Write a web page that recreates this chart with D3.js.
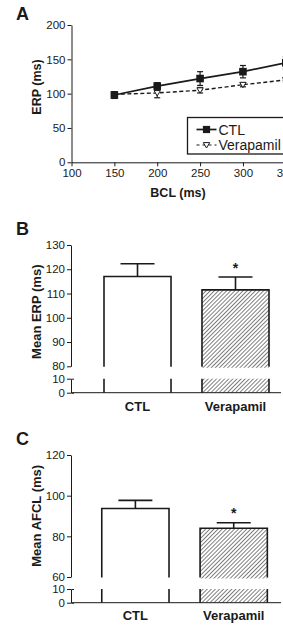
<!DOCTYPE html>
<html><head><meta charset="utf-8">
<script src="https://cdn.jsdelivr.net/npm/d3@7"></script>
<style>
html,body{margin:0;padding:0;background:#fff;}
svg{display:block;font-family:"Liberation Sans",Arial,Helvetica,sans-serif;}
</style></head>
<body><svg id="c" width="283" height="634"></svg>
<script>
// ---- Panel A data ----
const bcl = [150, 200, 250, 300, 350];
const ctlErp = [98, 111, 122, 132, 145];
const ctlErpErr = [5, 5, 10, 9, 9];
const veraErp = [99, 101, 105, 113, 120];
const veraErpErr = [3, 7, 4, 3, 3];
const xTicksA = [100, 150, 200, 250, 300, 350];
const yTicksA = [0, 50, 100, 150, 200];
const seriesNames = ["CTL", "Verapamil"];

// ---- Panel B data ----
const groups = ["CTL", "Verapamil"];
const meanErp = [117, 111.5];
const meanErpErr = [5.3, 5.3];
const erpTicksUpper = [80, 90, 100, 110, 120, 130];
const erpTicksLower = [0, 10];

// ---- Panel C data ----
const meanAfcl = [93.7, 84];
const meanAfclErr = [4, 2.7];
const afclTicksUpper = [60, 80, 100, 120];
const afclTicksLower = [0, 10];
const significant = [false, true];

const svg = d3.select("#c");
const ink = "#1a1a1a";
const tickFs = 11.5;

const defs = svg.append("defs");
const pat = defs.append("pattern").attr("id","hatch").attr("patternUnits","userSpaceOnUse")
  .attr("width",2.9).attr("height",2.9).attr("patternTransform","rotate(45)");
pat.append("rect").attr("width",2.9).attr("height",2.9).attr("fill","#fff");
pat.append("line").attr("x1",0).attr("y1",0).attr("x2",0).attr("y2",2.9)
  .attr("stroke","#2a2a2a").attr("stroke-width",1.2);

function styleAxis(g, fs){
  g.selectAll("path,line").attr("stroke", ink).attr("stroke-width",1);
  g.selectAll("text").attr("fill", ink).style("font-size", fs+"px").attr("font-family",null);
}

// ================= Panel A =================
const xA = d3.scaleLinear().domain([100, 350]).range([71.5, 285.8]);
const yA = d3.scaleLinear().domain([0, 200]).range([162.3, 25]);

svg.append("text").attr("x",16).attr("y",19.5).text("A")
  .style("font-size","18px").style("font-weight","bold").attr("fill",ink);

const gxA = svg.append("g").attr("transform",`translate(0,${yA(0)})`)
  .call(d3.axisBottom(xA).tickValues(xTicksA).tickSize(4).tickSizeOuter(0).tickPadding(3));
styleAxis(gxA, tickFs);
const gyA = svg.append("g").attr("transform",`translate(${xA(100)},0)`)
  .call(d3.axisLeft(yA).tickValues(yTicksA).tickSize(4).tickSizeOuter(0).tickPadding(2));
styleAxis(gyA, tickFs);

svg.append("text").attr("transform","translate(41,87) rotate(-90)").attr("text-anchor","middle")
  .text("ERP (ms)").style("font-size","12.5px").style("font-weight","bold").attr("fill",ink);
svg.append("text").attr("x",178).attr("y",197).attr("text-anchor","middle")
  .text("BCL (ms)").style("font-size","12.5px").style("font-weight","bold").attr("fill",ink);

const line = d3.line().x((d,i)=>xA(bcl[i])).y(d=>yA(d));
function errBars(vals, errs, capW){
  const g = svg.append("g").attr("stroke",ink).attr("stroke-width",1.2);
  vals.forEach((v,i)=>{
    const x = xA(bcl[i]);
    g.append("line").attr("x1",x).attr("x2",x).attr("y1",yA(v-errs[i])).attr("y2",yA(v+errs[i]));
    [v-errs[i], v+errs[i]].forEach(e=>{
      g.append("line").attr("x1",x-capW/2).attr("x2",x+capW/2).attr("y1",yA(e)).attr("y2",yA(e));
    });
  });
}
errBars(veraErp, veraErpErr, 6);
errBars(ctlErp, ctlErpErr, 6);
svg.append("path").datum(veraErp).attr("d",line).attr("fill","none")
  .attr("stroke",ink).attr("stroke-width",1.4).attr("stroke-dasharray","4,2.5");
svg.append("path").datum(ctlErp).attr("d",line).attr("fill","none")
  .attr("stroke",ink).attr("stroke-width",1.7);

const tri = "M-3.2,-2.4 L3.2,-2.4 L0,3 Z";
svg.selectAll(".tri").data(veraErp).enter().append("path")
  .attr("d",tri).attr("transform",(d,i)=>`translate(${xA(bcl[i])},${yA(d)})`)
  .attr("fill","#fff").attr("stroke",ink).attr("stroke-width",1);
svg.selectAll(".sq").data(ctlErp).enter().append("rect")
  .attr("x",(d,i)=>xA(bcl[i])-3.8).attr("y",d=>yA(d)-3.8).attr("width",7.6).attr("height",7.6)
  .attr("fill",ink);

// legend
const lg = svg.append("g");
lg.append("rect").attr("x",187.5).attr("y",117.5).attr("width",100).attr("height",36.5)
  .attr("fill","#fff").attr("stroke",ink).attr("stroke-width",1.3);
const legY = [129.5, 145];
lg.append("line").attr("x1",196.5).attr("x2",216.5).attr("y1",legY[0]).attr("y2",legY[0])
  .attr("stroke",ink).attr("stroke-width",1.7);
lg.append("rect").attr("x",206.5-3.6).attr("y",legY[0]-3.6).attr("width",7.2).attr("height",7.2).attr("fill",ink);
lg.append("line").attr("x1",196.5).attr("x2",216.5).attr("y1",legY[1]).attr("y2",legY[1])
  .attr("stroke",ink).attr("stroke-width",1.2).attr("stroke-dasharray","3,3");
lg.append("path").attr("d",tri).attr("transform",`translate(206.5,${legY[1]})`)
  .attr("fill","#fff").attr("stroke",ink).attr("stroke-width",1);
seriesNames.forEach((n,i)=>{
  lg.append("text").attr("x",218.5).attr("y",legY[i]+5).text(n)
    .style("font-size","14px").attr("fill",ink);
});

// ================= Bar panels =================
function barPanel(opt){
  const x = d3.scaleBand().domain(groups).range(opt.xr).paddingInner(0.316).paddingOuter(0.2);
  const yU = d3.scaleLinear().domain(opt.upDom).range(opt.upRange);
  const yL = d3.scaleLinear().domain([0,10]).range(opt.lowRange);

  svg.append("text").attr("x",16).attr("y",opt.letterY).text(opt.letter)
    .style("font-size","18px").style("font-weight","bold").attr("fill",ink);

  groups.forEach((gname,i)=>{
    const x0 = x(gname), w = x.bandwidth();
    const fill = i===0 ? "#fff" : "url(#hatch)";
    const v = opt.vals[i];
    svg.append("rect").attr("x",x0).attr("y",yU(v)).attr("width",w)
      .attr("height",yU(opt.upDom[0])+1.5-yU(v)).attr("fill",fill);
    svg.append("path").attr("d",`M${x0},${yU(opt.upDom[0])+0.5} V${yU(v)} H${x0+w} V${yU(opt.upDom[0])+0.5}`)
      .attr("fill","none").attr("stroke",ink).attr("stroke-width",1.6);
    svg.append("rect").attr("x",x0).attr("y",yL(10)).attr("width",w)
      .attr("height",yL(0)-yL(10)).attr("fill",fill);
    svg.append("line").attr("x1",x0).attr("x2",x0).attr("y1",yL(10)).attr("y2",yL(0))
      .attr("stroke",ink).attr("stroke-width",1.6);
    svg.append("line").attr("x1",x0+w).attr("x2",x0+w).attr("y1",yL(10)).attr("y2",yL(0))
      .attr("stroke",ink).attr("stroke-width",1.6);
    const cx = x0 + w/2, top = v + opt.errs[i];
    svg.append("line").attr("x1",cx).attr("x2",cx).attr("y1",yU(v)).attr("y2",yU(top))
      .attr("stroke",ink).attr("stroke-width",1.6);
    svg.append("line").attr("x1",cx-17).attr("x2",cx+17).attr("y1",yU(top)).attr("y2",yU(top))
      .attr("stroke",ink).attr("stroke-width",1.6);
    if (significant[i]) {
      svg.append("text").attr("x",cx).attr("y",yU(top)-4.5).attr("text-anchor","middle")
        .text("*").style("font-size","14px").style("font-weight","bold").attr("fill",ink);
    }
    svg.append("text").attr("x",cx).attr("y",opt.catY).attr("text-anchor","middle").text(gname)
      .style("font-size","13px").style("font-weight","bold").attr("fill",ink);
  });

  const gu = svg.append("g").attr("transform",`translate(71,0)`)
    .call(d3.axisLeft(yU).tickValues(opt.upTicks).tickSize(4).tickSizeOuter(0).tickPadding(2));
  styleAxis(gu, tickFs);
  const gl = svg.append("g").attr("transform",`translate(71,0)`)
    .call(d3.axisLeft(yL).tickValues(opt.lowTicks).tickSize(4).tickSizeOuter(-3).tickPadding(2));
  styleAxis(gl, tickFs);
  svg.append("line").attr("x1",71).attr("x2",281).attr("y1",yL(0)).attr("y2",yL(0))
    .attr("stroke",ink).attr("stroke-width",1);

  svg.append("text").attr("transform",`translate(40.5,${opt.titleY}) rotate(-90)`)
    .attr("text-anchor","middle").text(opt.title)
    .style("font-size","13px").style("font-weight","bold").attr("fill",ink);
}

barPanel({
  letter:"B", letterY:235,
  xr:[84.4, 288.6],
  vals: meanErp, errs: meanErpErr,
  upDom:[80,130], upRange:[366.3, 245], lowRange:[392.7, 378.7],
  upTicks: erpTicksUpper, lowTicks: erpTicksLower,
  title:"Mean ERP (ms)", titleY:311.7, catY:410.5
});
barPanel({
  letter:"C", letterY:445,
  xr:[82.1, 287],
  vals: meanAfcl, errs: meanAfclErr,
  upDom:[60,120], upRange:[577, 455], lowRange:[602.7, 589],
  upTicks: afclTicksUpper, lowTicks: afclTicksLower,
  title:"Mean AFCL (ms)", titleY:515.8, catY:620
});
</script>
</body></html>
